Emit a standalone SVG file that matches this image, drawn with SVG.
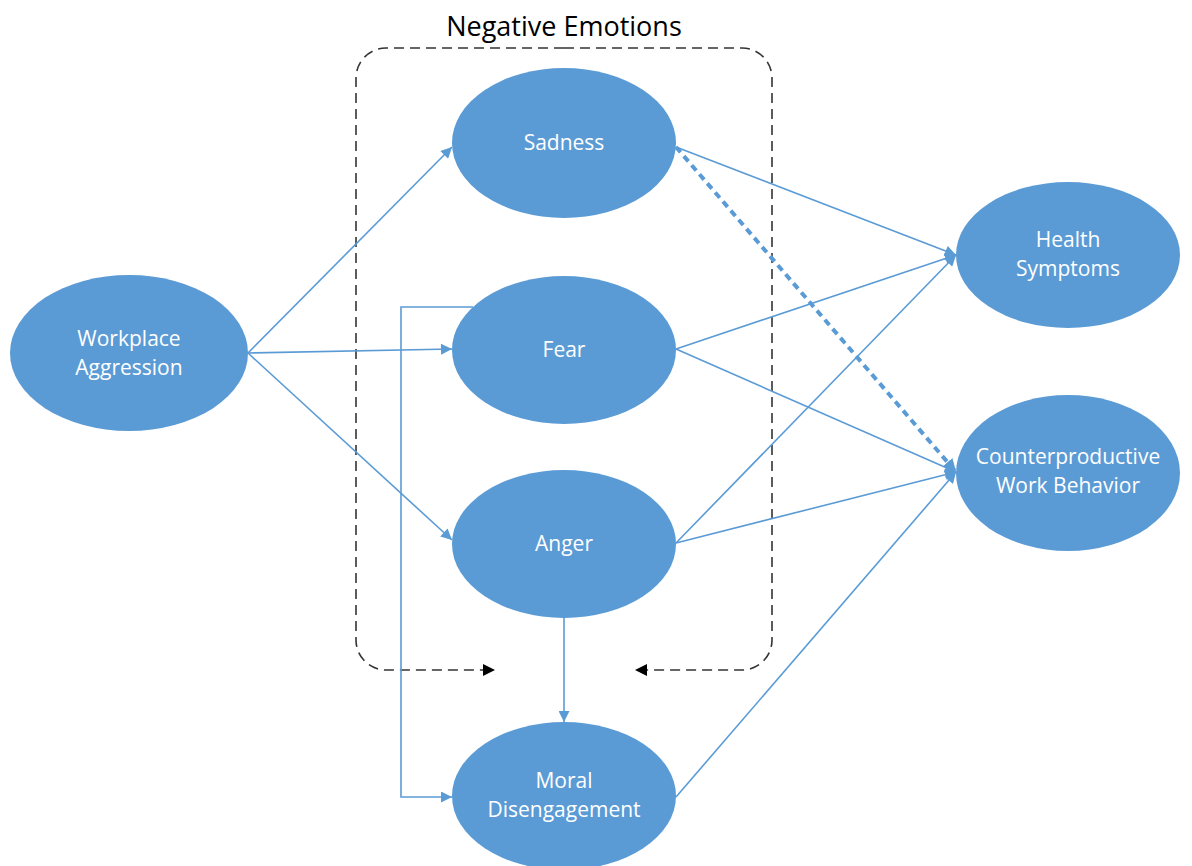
<svg xmlns="http://www.w3.org/2000/svg" width="1192" height="866" viewBox="0 0 1192 866">
<style>
.node ellipse{fill:#5b9bd5;}
.node text{fill:#ffffff;font-family:"Open Sans","Liberation Sans",sans-serif;font-size:21px;text-anchor:middle;}
.c{stroke:#5b9bd5;stroke-width:1.6;fill:none;marker-end:url(#ab);}
.cd{stroke:#5b9bd5;stroke-width:4;fill:none;stroke-dasharray:7 5;marker-end:url(#ab2);}
.box{stroke:#333;stroke-width:1.6;fill:none;stroke-dasharray:10 6;marker-end:url(#ak);}
.title{font-family:"Open Sans","Liberation Sans",sans-serif;font-size:27px;fill:#000;text-anchor:middle;}
</style>
<defs>
<marker id="ab" viewBox="0 0 10 10" refX="10" refY="5" markerWidth="12" markerHeight="11" markerUnits="userSpaceOnUse" orient="auto"><path d="M0,0 L10,5 L0,10 Z" fill="#5b9bd5"/></marker>
<marker id="ab2" viewBox="0 0 10 10" refX="10" refY="5" markerWidth="13" markerHeight="13" markerUnits="userSpaceOnUse" orient="auto"><path d="M0,0 L10,5 L0,10 Z" fill="#5b9bd5"/></marker>
<marker id="ak" viewBox="0 0 10 10" refX="10" refY="5" markerWidth="13" markerHeight="12" markerUnits="userSpaceOnUse" orient="auto"><path d="M0,0 L10,5 L0,10 Z" fill="#000"/></marker>
</defs>
<rect width="1192" height="866" fill="#ffffff"/>
<text class="title" x="564" y="36">Negative Emotions</text>
<g id="group-box">
<path class="box" d="M564,48 L386,48 A30,30 0 0 0 356,78 L356,640 A30,30 0 0 0 386,670 L495,670"/>
<path class="box" d="M564,48 L742,48 A30,30 0 0 1 772,78 L772,640 A30,30 0 0 1 742,670 L635,670"/>
</g>
<g id="connectors">
<line class="c" x1="248" y1="353" x2="452" y2="147"/>
<line class="c" x1="248" y1="353" x2="452" y2="349"/>
<line class="c" x1="248" y1="353" x2="452" y2="540"/>
<path class="c" d="M473,307 L401,307 L401,797 L452,797"/>
<line class="c" x1="564" y1="618" x2="564" y2="722"/>
<line class="c" x1="676" y1="147" x2="956" y2="255"/>
<line class="cd" x1="676" y1="147" x2="956" y2="472"/>
<line class="c" x1="676" y1="349" x2="956" y2="255"/>
<line class="c" x1="676" y1="349" x2="956" y2="472"/>
<line class="c" x1="676" y1="543" x2="956" y2="255"/>
<line class="c" x1="676" y1="543" x2="956" y2="472"/>
<line class="c" x1="676" y1="797" x2="956" y2="472"/>
</g>
<g id="workplace-aggression" class="node"><ellipse cx="129" cy="353" rx="119" ry="78"/><text x="129" y="346">Workplace</text><text x="129" y="375">Aggression</text></g>
<g id="sadness" class="node"><ellipse cx="564" cy="143" rx="112" ry="75"/><text x="564" y="150">Sadness</text></g>
<g id="fear" class="node"><ellipse cx="564" cy="350" rx="112" ry="74"/><text x="564" y="357">Fear</text></g>
<g id="anger" class="node"><ellipse cx="564" cy="544" rx="112" ry="74"/><text x="564" y="551">Anger</text></g>
<g id="moral-disengagement" class="node"><ellipse cx="564" cy="796" rx="112" ry="74"/><text x="564" y="788">Moral</text><text x="564" y="817">Disengagement</text></g>
<g id="health-symptoms" class="node"><ellipse cx="1068" cy="255" rx="112" ry="73"/><text x="1068" y="247">Health</text><text x="1068" y="276">Symptoms</text></g>
<g id="cwb" class="node"><ellipse cx="1068" cy="473" rx="112" ry="78"/><text x="1068" y="464">Counterproductive</text><text x="1068" y="493">Work Behavior</text></g>
</svg>
